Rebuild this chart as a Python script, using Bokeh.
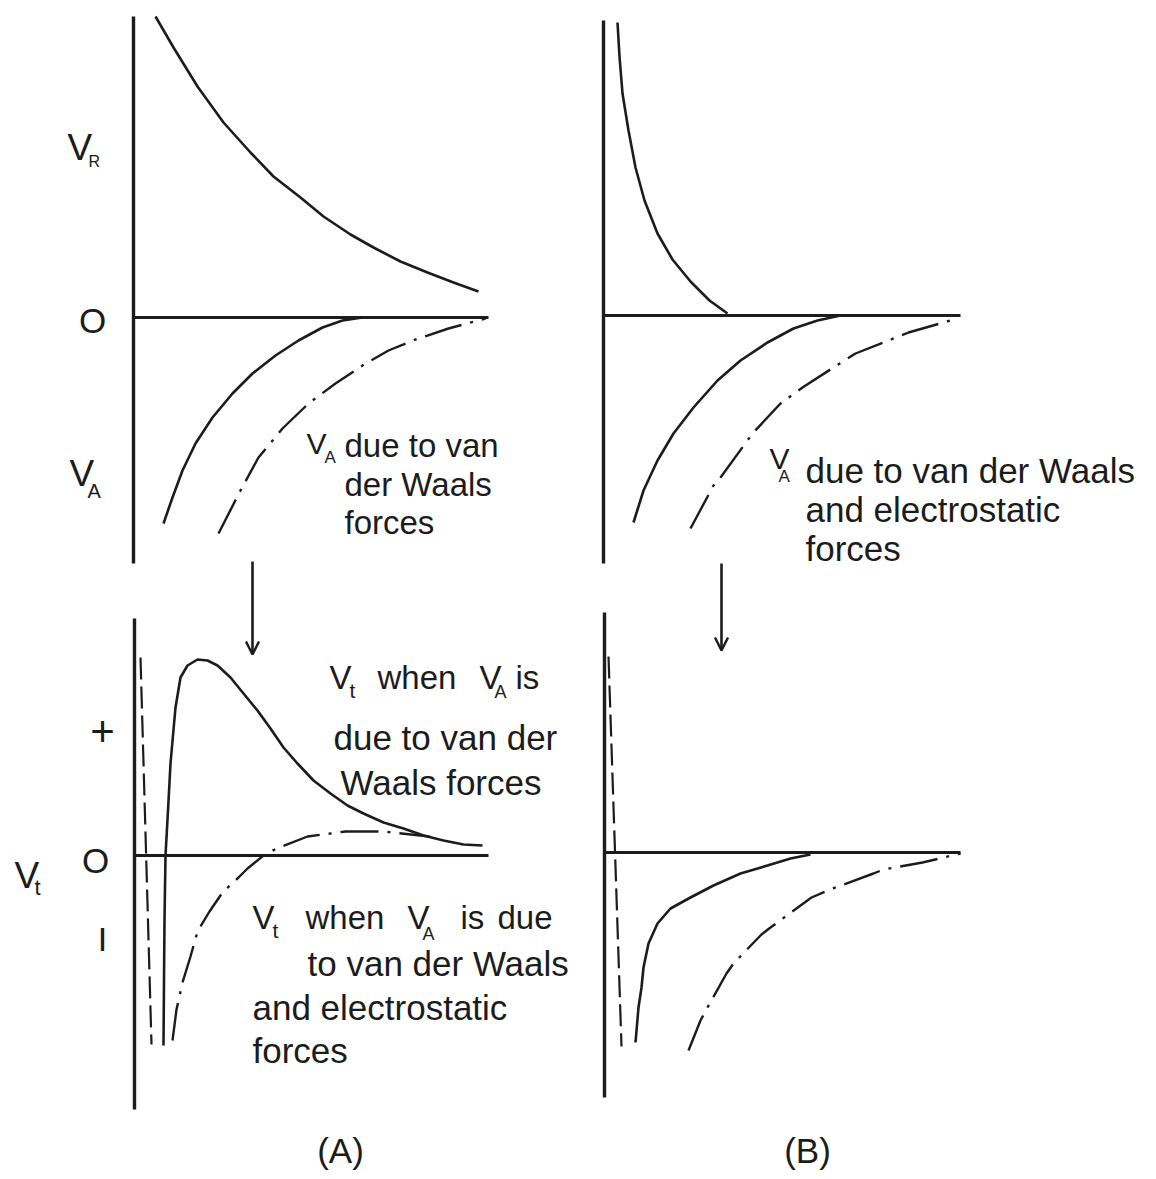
from bokeh.plotting import figure
from bokeh.models import Range1d, Arrow, OpenHead
from bokeh.core.properties import value
from bokeh.embed import file_html
from bokeh.resources import INLINE

INK = "#1c1c1c"
FONT = "Liberation Sans"

# ---------------- data (distance, potential) ----------------
# Panel A, top: repulsion V_R, attraction V_A (van der Waals), V_A (vdW + electrostatic)
ta_vr_x = [0.22, 0.40, 0.64, 0.90, 1.17, 1.40, 1.67, 1.90, 2.17, 2.40, 2.67, 2.94, 3.20, 3.45]
ta_vr_y = [3.01, 2.70, 2.31, 1.95, 1.65, 1.41, 1.20, 1.01, 0.83, 0.70, 0.56, 0.45, 0.35, 0.26]
ta_va_x = [0.30, 0.39, 0.49, 0.62, 0.79, 0.99, 1.19, 1.42, 1.65, 1.89, 2.09, 2.29]
ta_va_y = [-2.06, -1.80, -1.53, -1.26, -1.00, -0.76, -0.56, -0.38, -0.23, -0.10, -0.03, 0.0]
ta_vae_x = [0.85, 1.07, 1.25, 1.49, 1.75, 2.02, 2.29, 2.55, 2.82, 3.15, 3.52]
ta_vae_y = [-2.16, -1.73, -1.40, -1.11, -0.86, -0.66, -0.48, -0.33, -0.22, -0.11, -0.01]

# Panel B, top
tb_vr_x = [0.14, 0.16, 0.19, 0.25, 0.32, 0.41, 0.54, 0.69, 0.87, 1.06, 1.24]
tb_vr_y = [2.93, 2.59, 2.22, 1.85, 1.48, 1.15, 0.82, 0.56, 0.34, 0.15, 0.02]
tb_va_x = [0.30, 0.40, 0.54, 0.70, 0.90, 1.14, 1.37, 1.64, 1.90, 2.14, 2.37]
tb_va_y = [-2.07, -1.75, -1.45, -1.18, -0.92, -0.65, -0.45, -0.27, -0.13, -0.05, 0.0]
tb_vae_x = [0.87, 1.10, 1.17, 1.49, 1.77, 1.99, 2.30, 2.52, 2.80, 3.05, 3.54]
tb_vae_y = [-2.13, -1.70, -1.62, -1.18, -0.88, -0.72, -0.52, -0.38, -0.27, -0.17, -0.03]

# Panel A, bottom: total potential V_t
ba_vt_x = [0.29, 0.295, 0.30, 0.31, 0.335, 0.36, 0.41, 0.46, 0.53, 0.63, 0.73, 0.83, 0.96, 1.09,
           1.23, 1.36, 1.49, 1.63, 1.79, 1.96, 2.13, 2.29, 2.49, 2.69, 2.89, 3.09, 3.29, 3.48]
ba_vt_y = [-1.90, -1.25, -0.65, 0.0, 0.45, 0.92, 1.48, 1.78, 1.90, 1.96, 1.95, 1.90, 1.78, 1.62,
           1.45, 1.27, 1.08, 0.92, 0.75, 0.62, 0.50, 0.42, 0.33, 0.27, 0.20, 0.15, 0.11, 0.10]
ba_vte_x = [0.38, 0.42, 0.48, 0.56, 0.63, 0.75, 0.88, 1.04, 1.13, 1.29, 1.42, 1.73, 2.11, 2.49, 2.95]
ba_vte_y = [-1.85, -1.54, -1.27, -1.01, -0.76, -0.56, -0.37, -0.22, -0.13, 0.0, 0.07, 0.19, 0.24, 0.24, 0.19]
ba_hard_x = [0.06, 0.17]
ba_hard_y = [1.98, -1.89]

# Panel B, bottom
bb_vt_x = [0.31, 0.34, 0.37, 0.39, 0.44, 0.53, 0.66, 0.86, 1.09, 1.36, 1.63, 1.86, 2.06]
bb_vt_y = [-1.90, -1.55, -1.35, -1.15, -0.91, -0.71, -0.56, -0.45, -0.33, -0.21, -0.13, -0.06, -0.02]
bb_vte_x = [0.84, 0.96, 1.03, 1.22, 1.29, 1.57, 1.66, 2.07, 2.23, 2.69, 2.79, 3.18, 3.56]
bb_vte_y = [-1.98, -1.68, -1.55, -1.21, -1.11, -0.82, -0.75, -0.45, -0.38, -0.21, -0.17, -0.10, -0.01]
bb_hard_x = [0.04, 0.17]
bb_hard_y = [1.96, -1.94]

# ---------------- layout ----------------
W, H = 1148, 1171
X0, X1, Y0, Y1 = 0, W, 0, H            # picture pixel frame
SCALE = 100.0                          # px per data unit

# panel origin (axis x, zero-line y) in picture pixels, vertical-axis extent, zero-line length
PANELS = {
    "ta": dict(origin=(133, 317), vaxis=(3.01, -2.46), zlen=3.55),
    "tb": dict(origin=(603, 315), vaxis=(2.95, -2.48), zlen=3.57),
    "ba": dict(origin=(134, 855), vaxis=(2.37, -2.54), zlen=3.54),
    "bb": dict(origin=(604, 852), vaxis=(2.40, -2.45), zlen=3.56),
}

p = figure(width=W, height=H, x_range=Range1d(X0, X1), y_range=Range1d(Y1, Y0),
           output_backend="svg", toolbar_location=None,
           x_axis_type=None, y_axis_type=None, min_border=0)
p.outline_line_color = None
p.background_fill_color = "white"
p.border_fill_color = "white"

for name, cfg in PANELS.items():
    ox, oy = cfg["origin"]
    p.extra_x_ranges[name] = Range1d((X0 - ox) / SCALE, (X1 - ox) / SCALE)
    p.extra_y_ranges[name] = Range1d((oy - Y1) / SCALE, (oy - Y0) / SCALE)
    top, bot = cfg["vaxis"]
    p.line([0, 0], [top, bot], x_range_name=name, y_range_name=name,
           line_width=3.4, line_color=INK)
    p.line([0, cfg["zlen"]], [0, 0], x_range_name=name, y_range_name=name,
           line_width=3.0, line_color=INK)

SOLID = dict(line_width=2.6, line_color=INK, line_join="round")
DASHDOT = dict(line_width=2.4, line_color=INK, line_dash="38 9 3 9")
DASHED = dict(line_width=2.2, line_color=INK, line_dash="22 7")

def curve(name, xs, ys, style):
    p.line(xs, ys, x_range_name=name, y_range_name=name, **style)

curve("ta", ta_vr_x, ta_vr_y, SOLID)
curve("ta", ta_va_x, ta_va_y, SOLID)
curve("ta", ta_vae_x, ta_vae_y, DASHDOT)
curve("tb", tb_vr_x, tb_vr_y, SOLID)
curve("tb", tb_va_x, tb_va_y, SOLID)
curve("tb", tb_vae_x, tb_vae_y, DASHDOT)
curve("ba", ba_vt_x, ba_vt_y, SOLID)
curve("ba", ba_vte_x, ba_vte_y, DASHDOT)
curve("ba", ba_hard_x, ba_hard_y, DASHED)
curve("bb", bb_vt_x, bb_vt_y, SOLID)
curve("bb", bb_vte_x, bb_vte_y, DASHDOT)
curve("bb", bb_hard_x, bb_hard_y, DASHED)

# arrows from top panels to bottom panels
for ax, y0, y1 in [(252, 561, 654), (721, 563, 650)]:
    p.add_layout(Arrow(end=OpenHead(size=13, line_width=2.4, line_color=INK),
                       x_start=ax, y_start=y0, x_end=ax, y_end=y1,
                       line_width=2.6, line_color=INK))

# ---------------- text ----------------
def label(x, y, s, size, align="left", baseline="alphabetic"):
    p.text(x=[x], y=[y], text=[s], text_font=value(FONT), text_font_size=f"{size}px",
           text_align=align, text_baseline=baseline, text_color=INK)

# top A axis labels
label(67, 147, "V", 37)
label(88, 161, "R", 16)
label(92, 320, "O", 35, "center", "middle")
label(69, 473, "V", 37)
label(87, 490, "A", 20)
# top A annotation
label(306, 443, "V", 30)
label(324, 457, "A", 17)
label(344, 445, "due to van", 33)
label(344, 484, "der Waals", 33)
label(344, 522, "forces", 33)

# top B annotation
label(769, 458, "V", 30)
label(778, 476, "A", 17)
label(805, 470, "due to van der Waals", 35)
label(805, 509, "and electrostatic", 35)
label(805, 548, "forces", 35)

# bottom A axis labels
label(102, 731, "+", 42, "center", "middle")
label(102, 938, "I", 34, "center", "middle")
label(14, 875, "V", 37)
label(34, 887, "t", 22)
label(95, 860, "O", 35, "center", "middle")

# bottom A annotations
label(329, 677, "V", 33)
label(349, 690, "t", 21)
label(377, 677, "when", 33)
label(479, 677, "V", 33)
label(494, 691, "A", 18)
label(515, 677, "is", 33)
label(333, 737, "due to van der", 35)
label(340, 782, "Waals forces", 35)

label(252, 917, "V", 33)
label(272, 930, "t", 21)
label(305, 917, "when", 33)
label(407, 917, "V", 33)
label(422, 933, "A", 18)
label(460, 917, "is", 33)
label(497, 917, "due", 33)
label(307, 963, "to van der Waals", 35)
label(252, 1007, "and electrostatic", 35)
label(252, 1050, "forces", 35)

# panel captions
label(340, 1150, "(A)", 35, "center", "middle")
label(807, 1150, "(B)", 35, "center", "middle")

open("out.html", "w").write(file_html(p, INLINE))
